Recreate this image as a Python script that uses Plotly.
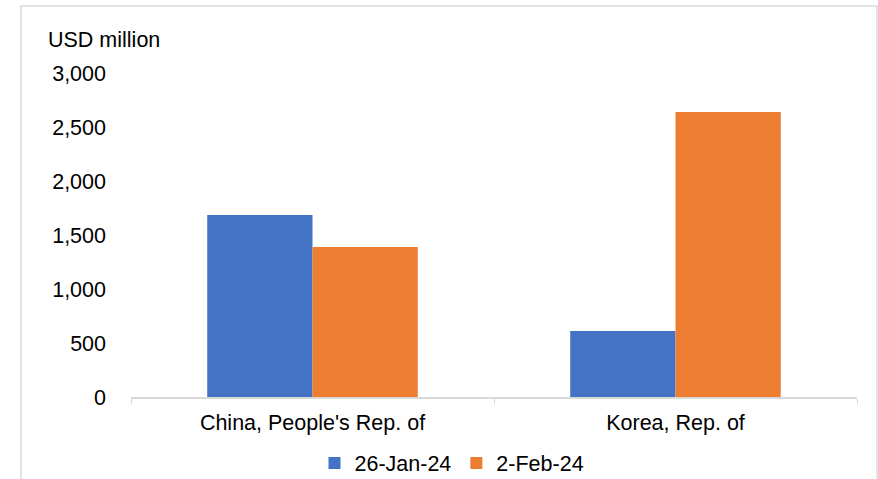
import plotly.graph_objects as go

categories = ["China, People's Rep. of", "Korea, Rep. of"]
series_names = ["26-Jan-24", "2-Feb-24"]
values_jan26 = [1685, 611]
values_feb2 = [1389, 2640]
y_ticks = [0, 500, 1000, 1500, 2000, 2500, 3000]
y_tick_labels = ["0", "500", "1,000", "1,500", "2,000", "2,500", "3,000"]

W, H = 878, 479
ML, MR, MT, MB = 131, 21, 73, 82
FONT = "Liberation Sans, Arial, sans-serif"
FS = 21.5

fig = go.Figure()
fig.add_trace(go.Bar(name=series_names[0], x=categories, y=values_jan26,
                     marker=dict(color="#4472C4", line=dict(width=0))))
fig.add_trace(go.Bar(name=series_names[1], x=categories, y=values_feb2,
                     marker=dict(color="#ED7D31", line=dict(width=0))))

pw = W - ML - MR
ph = H - MT - MB

fig.update_layout(
    width=W, height=H,
    margin=dict(l=ML, r=MR, t=MT, b=MB, pad=0, autoexpand=False),
    paper_bgcolor="white", plot_bgcolor="white",
    barmode="group", bargap=0.42, bargroupgap=0,
    font=dict(family=FONT, size=FS, color="#000000"),
    showlegend=True,
    legend=dict(orientation="h", xref="container", yref="container",
                x=452 / W, xanchor="center", y=1 - 463 / H, yanchor="middle",
                font=dict(size=FS), itemwidth=30,
                tracegroupgap=0, bgcolor="rgba(0,0,0,0)"),
    xaxis=dict(showline=True, linecolor="#d9d9d9", linewidth=1.5,
               ticks="outside", ticklen=5, tickcolor="#d9d9d9",
               tickson="boundaries", showgrid=False, automargin=False,
               ticklabelstandoff=5, tickfont=dict(size=FS)),
    yaxis=dict(range=[0, 3000], tickvals=y_ticks, ticktext=y_tick_labels,
               showgrid=False, zeroline=False, showline=False, automargin=False,
               ticks="", ticklabelstandoff=24, tickfont=dict(size=FS)),
    annotations=[dict(text="USD million", xref="paper", yref="paper",
                      x=(46 - ML) / pw, y=(H - 40 - MB) / ph,
                      xanchor="left", yanchor="middle", showarrow=False,
                      font=dict(size=FS))],
    shapes=[dict(type="rect", xref="paper", yref="paper",
                 x0=(21 - ML) / pw, x1=(877 - ML) / pw,
                 y0=(H - 520 - MB) / ph, y1=(H - 6 - MB) / ph,
                 line=dict(color="#d9d9d9", width=1.5), fillcolor="rgba(0,0,0,0)",
                 layer="below")],
)

fig.write_html("out.html")
